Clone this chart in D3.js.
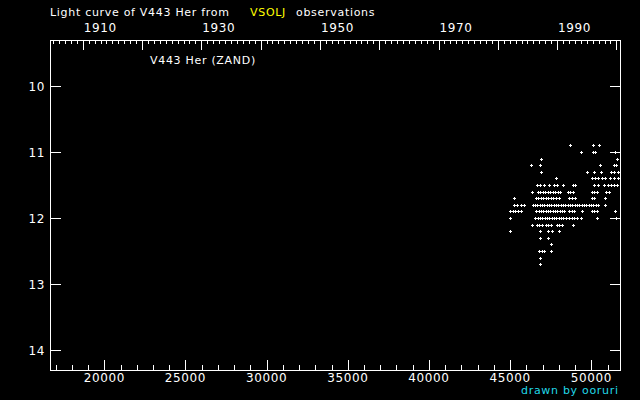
<!DOCTYPE html>
<html><head><meta charset="utf-8">
<script src="https://cdn.jsdelivr.net/npm/d3@7"></script>
<style>
html,body{margin:0;padding:0;background:#000;}
svg{display:block;}
text{font-family:"DejaVu Sans",sans-serif;fill:#fff;}
</style></head>
<body>
<svg id="chart" width="640" height="400"></svg>
<script>
// ---- data (JD - 2400000, visual magnitude) ----
const titleText = ["Light curve of V443 Her from", "VSOLJ", "observations"];
const starLabel = "V443 Her (ZAND)";
const creditText = "drawn by ooruri";
const jdTicks = [20000, 25000, 30000, 35000, 40000, 45000, 50000];
const yearLabels = [1910, 1930, 1950, 1970, 1990];
const magTicks = [10, 11, 12, 13, 14];

const obsJD = [
  48707, 50127, 50498,
  49386, 50086, 50209, 51485,
  46917, 51588,
  46299, 46855, 50559, 51382, 51547,
  46917, 49757, 50189, 50621, 51218, 51424, 51629,
  47822, 50024, 50230, 50436, 50642, 50848, 51156, 51382, 51629,
  46649, 46855, 47061, 47411, 47719, 47884, 48234, 48851, 48995, 50148, 50436, 50806, 51012, 51218, 51424, 51588,
  46361, 46690, 46855, 46999, 47164, 47308, 47472, 47616, 47781, 47925, 48090, 48542, 48707, 48851, 50024, 50189, 50353, 50909, 51115,
  45250, 46587, 46731, 46896, 47040, 47205, 47349, 47513, 47657, 47822, 47987, 48645, 48810, 48995, 50024, 50189, 50868,
  45250, 45414, 45661, 45826, 46382, 46526, 46670, 46814, 46958, 47102, 47246, 47390, 47534, 47678, 47822, 47966, 48110, 48254, 48398, 48542, 48686, 48830, 48975, 49119, 49263, 49407, 49551, 49695, 49839, 49983, 50127, 50271, 50395, 50868,
  44982, 45147, 45311, 45497, 45661, 46608, 46752, 46896, 47040, 47184, 47328, 47472, 47616, 47760, 47904, 48048, 48193, 48337, 48645, 48789, 48954, 49427, 50024, 50189, 50353, 51485,
  45003, 46546, 46690, 46834, 46978, 47122, 47266, 47411, 47555, 47699, 47843, 47987, 48131, 48275, 48419, 48625, 48789, 48954, 49098, 49386, 50374, 51547,
  46361, 46649, 46793, 46937, 47205, 47349, 47513, 47884, 48028, 48172, 48892,
  45003, 46834, 47349, 47555, 48028,
  46814, 47349,
  47534,
  46793, 46937, 47081, 47534,
  46814,
  46814
];
const obsMag = [
  10.9, 10.9, 10.9,
  11.0, 11.0, 11.0, 11.0,
  11.1, 11.1,
  11.2, 11.2, 11.2, 11.2, 11.2,
  11.3, 11.3, 11.3, 11.3, 11.3, 11.3, 11.3,
  11.4, 11.4, 11.4, 11.4, 11.4, 11.4, 11.4, 11.4, 11.4,
  11.5, 11.5, 11.5, 11.5, 11.5, 11.5, 11.5, 11.5, 11.5, 11.5, 11.5, 11.5, 11.5, 11.5, 11.5, 11.5,
  11.6, 11.6, 11.6, 11.6, 11.6, 11.6, 11.6, 11.6, 11.6, 11.6, 11.6, 11.6, 11.6, 11.6, 11.6, 11.6, 11.6, 11.6, 11.6,
  11.7, 11.7, 11.7, 11.7, 11.7, 11.7, 11.7, 11.7, 11.7, 11.7, 11.7, 11.7, 11.7, 11.7, 11.7, 11.7, 11.7,
  11.8, 11.8, 11.8, 11.8, 11.8, 11.8, 11.8, 11.8, 11.8, 11.8, 11.8, 11.8, 11.8, 11.8, 11.8, 11.8, 11.8, 11.8, 11.8, 11.8, 11.8, 11.8, 11.8, 11.8, 11.8, 11.8, 11.8, 11.8, 11.8, 11.8, 11.8, 11.8, 11.8, 11.8,
  11.9, 11.9, 11.9, 11.9, 11.9, 11.9, 11.9, 11.9, 11.9, 11.9, 11.9, 11.9, 11.9, 11.9, 11.9, 11.9, 11.9, 11.9, 11.9, 11.9, 11.9, 11.9, 11.9, 11.9, 11.9, 11.9,
  12.0, 12.0, 12.0, 12.0, 12.0, 12.0, 12.0, 12.0, 12.0, 12.0, 12.0, 12.0, 12.0, 12.0, 12.0, 12.0, 12.0, 12.0, 12.0, 12.0, 12.0, 12.0,
  12.1, 12.1, 12.1, 12.1, 12.1, 12.1, 12.1, 12.1, 12.1, 12.1, 12.1,
  12.2, 12.2, 12.2, 12.2, 12.2,
  12.3, 12.3,
  12.4,
  12.5, 12.5, 12.5, 12.5,
  12.6,
  12.7
];

// ---- layout ----
const L = 50, R = 620, T = 40, B = 370;
const svg = d3.select("#chart");
svg.append("rect").attr("width", 640).attr("height", 400).attr("fill", "#000");

const x = d3.scaleLinear().domain([16655, 51768]).range([L, R]);
const y = d3.scaleLinear().domain([9.303, 14.303]).range([T, B]);
// year axis: JD of 1900 Jan 0.5 = 15020.5, tropical year length
const yearScale = d3.scaleLinear()
  .domain([(16655 - 15020.5) / 365.25 + 1900, (51768 - 15020.5) / 365.25 + 1900])
  .range([L, R]);

const crisp = v => Math.round(v) + 0.5;

// bottom axis (JD)
const minorJD = d3.range(17000, 51768, 1000);
svg.append("g").selectAll("line").data(minorJD).join("line")
  .attr("x1", d => crisp(x(d))).attr("x2", d => crisp(x(d)))
  .attr("y1", B).attr("y2", d => B - (d % 5000 === 0 ? 10 : 5))
  .attr("stroke", "#fff").attr("stroke-width", 1);
svg.append("g").selectAll("text").data(jdTicks).join("text")
  .attr("x", d => x(d)).attr("y", 382).attr("text-anchor", "middle")
  .attr("font-size", 12).attr("letter-spacing", 0.6).text(d => d);

// top axis (years)
const years = d3.range(1905, 2001, 1);
svg.append("g").selectAll("line").data(years).join("line")
  .attr("x1", d => crisp(yearScale(d))).attr("x2", d => crisp(yearScale(d)))
  .attr("y1", T).attr("y2", d => T + (d % 10 === 0 ? 10 : 4))
  .attr("stroke", "#fff").attr("stroke-width", 1);
svg.append("g").selectAll("text").data(yearLabels).join("text")
  .attr("x", d => yearScale(d) + 1).attr("y", 32).attr("text-anchor", "start")
  .attr("font-size", 12).attr("letter-spacing", 0.6).text(d => d);

// left / right ticks (magnitude)
svg.append("g").selectAll("line").data(magTicks).join("line")
  .attr("x1", L).attr("x2", L + 11)
  .attr("y1", d => crisp(y(d))).attr("y2", d => crisp(y(d)))
  .attr("stroke", "#fff");
svg.append("g").selectAll("line").data(magTicks).join("line")
  .attr("x1", R).attr("x2", R - 10)
  .attr("y1", d => crisp(y(d))).attr("y2", d => crisp(y(d)))
  .attr("stroke", "#fff");
svg.append("g").selectAll("text").data(magTicks).join("text")
  .attr("x", 45).attr("y", d => y(d) + 4.5).attr("text-anchor", "end")
  .attr("font-size", 12).attr("letter-spacing", 0.6).text(d => d);

// frame
svg.append("rect").attr("x", L + 0.5).attr("y", T + 0.5)
  .attr("width", R - L).attr("height", B - T)
  .attr("fill", "none").attr("stroke", "#fff").attr("stroke-width", 1);

// observations as small plus markers
const pts = obsJD.map((j, i) => [j, obsMag[i]]);
svg.append("path")
  .attr("d", pts.map(([j, m]) => {
    const px = Math.round(x(j)), py = Math.round(y(m));
    return `M${px - 1},${py + 0.5}h3M${px + 0.5},${py - 1}v3`;
  }).join(""))
  .attr("stroke", "#fff").attr("stroke-width", 1).attr("fill", "none")
  .attr("shape-rendering", "crispEdges");

// texts
const title = svg.append("text").attr("x", 50).attr("y", 16)
  .attr("font-size", 11).attr("letter-spacing", 0.7);
title.append("tspan").text(titleText[0]);
title.append("tspan").attr("x", 250).attr("fill", "#ffff00").text(titleText[1]);
title.append("tspan").attr("x", 296).text(titleText[2]);

svg.append("text").attr("x", 150).attr("y", 64)
  .attr("font-size", 11).attr("letter-spacing", 0.7).text(starLabel);

svg.append("text").attr("x", 521).attr("y", 394)
  .attr("font-size", 11).attr("letter-spacing", 0.7)
  .style("fill", "#20d8e8").text(creditText);
</script>
</body></html>
